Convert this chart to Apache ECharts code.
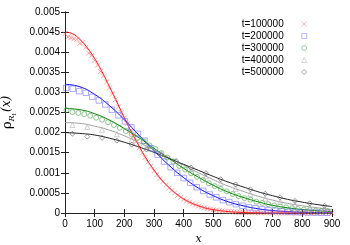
<!DOCTYPE html>
<html><head><meta charset="utf-8">
<script src="https://cdn.jsdelivr.net/npm/echarts@6/dist/echarts.min.js"></script>
<style>html,body{margin:0;padding:0;background:#fff}#c{width:350px;height:245px}</style>
</head><body><div id="c"></div>
<script>
// ---- data ----
const seriesNames = ['t=100000','t=200000','t=300000','t=400000','t=500000'];
const xTicks = [0,100,200,300,400,500,600,700,800,900];

// fitted curves
const redLineX = [0,25,50,75,100,125,150,175,200,225,250,275,300,325,350,375,400,425,450,475,500,525,550,575,600,650,700,750,800,850,900];
const redLineY = [0.0045,0.00446,0.00432,0.00411,0.00384,0.00351,0.00314,0.00276,0.00237,0.0020,0.00166,0.00134,0.00107,0.00083,0.00064,0.00048,0.00035,0.00025,0.00018,0.00012,0.000083,0.000055,0.000036,0.000023,0.000014,0.000005,0.000002,0.0000005,0,0,0];
const lineX = [0,50,100,150,200,250,300,350,400,450,500,550,600,650,700,750,800,850,900];
const blueLineY = [0.0032,0.00314,0.00295,0.00267,0.00232,0.00193,0.00155,0.00119,0.00088,0.00062,0.00043,0.00028,0.00018,0.000106,0.000061,0.000034,0.000018,0.0000095,0.0000047];
const greenLineY = [0.0026,0.00257,0.00247,0.00231,0.0021,0.00187,0.00161,0.00136,0.00111,0.00089,0.00069,0.00052,0.00039,0.00028,0.00019,0.00013,0.000087,0.000056,0.000035];
const greyLineY = [0.00225,0.00223,0.00216,0.00206,0.00192,0.00175,0.00157,0.00138,0.00119,0.0010,0.00083,0.00067,0.00054,0.00042,0.00032,0.00024,0.00018,0.00013,0.000089];
const blackLineY = [0.002,0.00198,0.00194,0.00186,0.00176,0.00164,0.00151,0.00136,0.00121,0.00106,0.00091,0.00077,0.00065,0.00053,0.00043,0.00034,0.00027,0.00021,0.00016];

// measured points
const redPtsX = [0,10,20,30,40,50,60,70,80,90,100,110,120,130,140,150,160,170,180,190,200,210,220,230,240,250,260,270,280,290,300,310,320,330,340,350,360,370,380,390,400,410,420,430,440,450,460,470,480,490,500,510,520,530,540,550,560,570,580,590,600,610,620,630,640,650,660,670,680,690,700,710,720,730,740,750,760,770,780,790,800,810,820,830,840,850,860,870,880,890,900];
const redPtsY = [0.00446,0.00438,0.00436,0.00433,0.00432,0.00422,0.00424,0.00412,0.00398,0.00392,0.00379,0.00368,0.00352,0.00341,0.00326,0.00311,0.00296,0.00282,0.00264,0.0025,0.00236,0.00222,0.00204,0.0019,0.00178,0.00162,0.0015,0.00138,0.00127,0.00116,0.00105,0.00096,0.00086,0.00078,0.0007,0.00062,0.00056,0.0005,0.00044,0.00039,0.00034,0.0003,0.00027,0.00023,0.0002,0.00017,0.00015,0.00013,0.00011,0.000095,0.00008,0.00007,0.00006,0.00005,0.00004,0.000035,0.00003,0.000025,0.00002,0.000017,0.000014,0.000012,0.00001,0.000008,0.000006,0.000005,0.000004,0.000003,0.000003,0.000002,0.000002,0.000001,0.000001,0.000001,0.000001,0.000001,0.000001,0,0,0,0,0,0,0,0,0,0,0,0,0,0];
const bluePtsX = [4,26,48,70,92,114,136,158,180,202,224,246,268,290,312,334,356,378,400,422,444,466,488,510,532,554,576,598,620,642,664,686,708,730,752,774,796,818,840,862,884];
const bluePtsY = [0.00311,0.00309,0.00303,0.00299,0.00289,0.0028,0.0027,0.00257,0.00243,0.00228,0.00213,0.00197,0.0018,0.00161,0.00145,0.00128,0.00114,0.001,0.00087,0.00075,0.00064,0.00055,0.00046,0.00039,0.00032,0.00027,0.00022,0.00018,0.00014,0.00012,0.00009,0.00007,0.000056,0.000044,0.000033,0.000026,0.000019,0.000014,0.000011,0.000008,0.000006];
const greenPtsX = [5,25,45,65,85,105,125,145,165,185,205,225,245,265,285,305,325,345,365,385,405,425,445,465,485,505,525,545,565,585,605,625,645,665,685,705,725,745,765,785,805,825,845,865,885];
const greenPtsY = [0.00256,0.00251,0.00249,0.00246,0.00242,0.00237,0.00232,0.00226,0.00219,0.00212,0.00204,0.00196,0.00187,0.00178,0.00168,0.00159,0.00149,0.00138,0.00128,0.00117,0.00108,0.00099,0.0009,0.00082,0.00074,0.00067,0.0006,0.00054,0.00047,0.00042,0.00037,0.00033,0.00028,0.00025,0.00022,0.00019,0.00016,0.00014,0.00012,0.0001,0.000085,0.00007,0.000059,0.000049,0.000041];
const sparsePtsX = [25,75,125,175,225,275,325,375,425,475,525,575,625,675,725,775,825,875];
const greyPtsY = [0.00219,0.00214,0.00207,0.00196,0.00182,0.00166,0.00148,0.00129,0.00109,0.00091,0.00074,0.0006,0.00047,0.00036,0.00028,0.00021,0.00015,0.00011];
const blackPtsY = [0.00197,0.0019,0.00187,0.0018,0.0017,0.00158,0.00144,0.00129,0.00113,0.00099,0.00084,0.00071,0.00059,0.00048,0.00039,0.0003,0.00024,0.00018];

// ---- build ----
const zip = (xs, ys) => xs.map((x, i) => [x, ys[i]]);
const FONT = 'Liberation Sans, Arial, sans-serif';
const crossPath = 'path://M0,0L10,10M10,0L0,10';

function lineSeries(xs, ys, color) {
  return { type: 'line', data: zip(xs, ys), smooth: true, symbol: 'none', silent: true,
    lineStyle: { color: color, width: 1 }, z: 2 };
}
function ptSeries(name, xs, ys, symbol, size, color) {
  return { type: 'scatter', name: name, data: zip(xs, ys), symbol: symbol, symbolSize: size,
    itemStyle: { color: 'rgba(0,0,0,0)', borderColor: color, borderWidth: 0.7 }, z: 3 };
}

const axisLine = { show: true, lineStyle: { color: '#222', width: 1 } };
const tick = { show: true, inside: true, length: 4, lineStyle: { color: '#222' } };

const option = {
  animation: false,
  backgroundColor: '#fff',
  grid: { left: 65, right: 18, top: 12, bottom: 32, containLabel: false, outerBoundsMode: 'none' },
  legend: {
    orient: 'vertical', right: 38, top: 14, align: 'right',
    itemWidth: 5, itemHeight: 5, itemGap: 2,
    data: seriesNames,
    itemStyle: { borderWidth: 0.6 },
    textStyle: { fontFamily: FONT, fontSize: 10, color: '#000', padding: [0, 13, 0, 0] }
  },
  xAxis: [
    { type: 'value', min: 0, max: 900, interval: 100, position: 'bottom',
      axisLine: axisLine, axisTick: tick, splitLine: { show: false },
      axisLabel: { fontFamily: FONT, fontSize: 10, color: '#000', margin: 6 },
      name: 'x', nameLocation: 'middle', nameGap: 21,
      nameTextStyle: { fontFamily: 'DejaVu Serif', fontStyle: 'italic', fontSize: 11, color: '#000' } },
    { type: 'value', min: 0, max: 900, interval: 100, position: 'top',
      axisLine: axisLine, axisTick: tick, splitLine: { show: false }, axisLabel: { show: false } }
  ],
  yAxis: [
    { type: 'value', min: 0, max: 0.005, interval: 0.0005, position: 'left',
      axisLine: axisLine, axisTick: tick, splitLine: { show: false },
      axisLabel: { fontFamily: FONT, fontSize: 10, color: '#000', margin: 5,
        formatter: v => String(+v.toFixed(4)) },
      name: '{a|ρ}{b|R}{c|t}{d|(x)}', nameLocation: 'middle', nameRotate: 90, nameGap: 48,
      nameTextStyle: { color: '#000',
        rich: {
          a: { fontFamily: 'DejaVu Serif', fontSize: 13, color: '#000' },
          b: { fontFamily: 'DejaVu Serif', fontStyle: 'italic', fontSize: 8, color: '#000', padding: [8, 0, 0, 0] },
          c: { fontFamily: 'DejaVu Serif', fontStyle: 'italic', fontSize: 6, color: '#000', padding: [12, 0, 0, 0] },
          d: { fontFamily: 'DejaVu Serif', fontStyle: 'italic', fontSize: 12, color: '#000', padding: [0, 0, 3, 1] }
        } } },
    { type: 'value', min: 0, max: 0.005, interval: 0.0005, position: 'right',
      axisLine: axisLine, axisTick: tick, splitLine: { show: false }, axisLabel: { show: false } }
  ],
  series: [
    lineSeries(redLineX, redLineY, '#ff0000'),
    lineSeries(lineX, blueLineY, '#0000ff'),
    lineSeries(lineX, greenLineY, '#008000'),
    lineSeries(lineX, greyLineY, '#a0a0a0'),
    lineSeries(lineX, blackLineY, '#202020'),
    ptSeries(seriesNames[0], redPtsX, redPtsY, crossPath, 5, '#ff6060'),
    ptSeries(seriesNames[1], bluePtsX, bluePtsY, 'rect', 5.5, '#6868ff'),
    ptSeries(seriesNames[2], greenPtsX, greenPtsY, 'circle', 5, '#3a9a3a'),
    ptSeries(seriesNames[3], sparsePtsX, greyPtsY, 'triangle', 5, '#a8a8a8'),
    ptSeries(seriesNames[4], sparsePtsX, blackPtsY, 'diamond', 5, '#444444')
  ]
};
const chart = echarts.init(document.getElementById('c'), null, { renderer: 'canvas' });
chart.setOption(option);
</script></body></html>
